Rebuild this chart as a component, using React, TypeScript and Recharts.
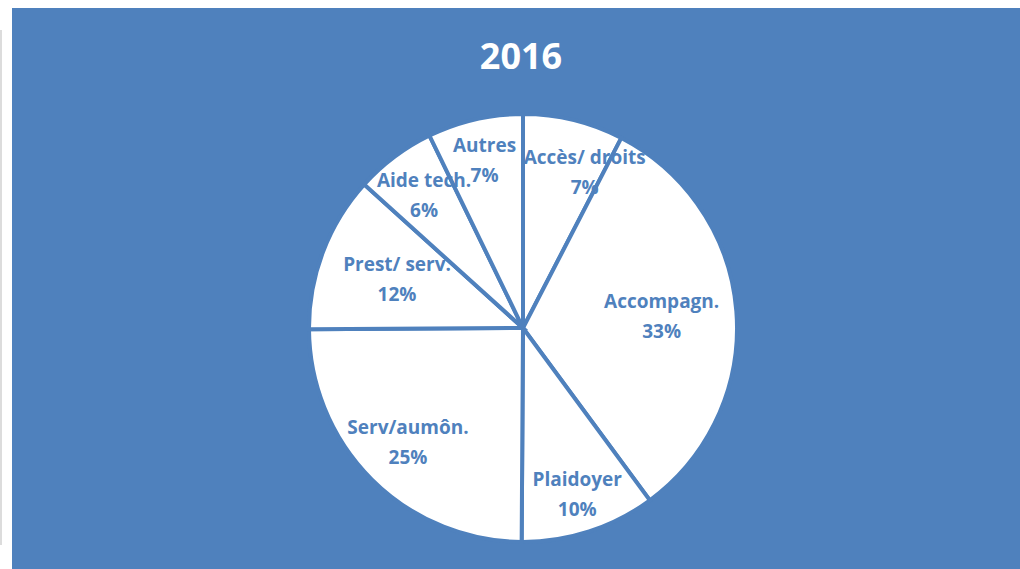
import React from "react";
import { PieChart, Pie, Cell } from "recharts";

const categories = ["Accès/ droits", "Accompagn.", "Plaidoyer", "Serv/aumôn.", "Prest/ serv.", "Aide tech.", "Autres"];
const values = [7.6, 32.3, 10.2, 24.8, 11.8, 6.1, 7.2];
const percentLabels = ["7%", "33%", "10%", "25%", "12%", "6%", "7%"];

const data = categories.map((name, i) => ({ name, value: values[i], pct: percentLabels[i] }));

// label layout tweaks (radius factor, angle offset in degrees)
const labelRadius = [0.78, 0.65, 0.82, 0.76, 0.63, 0.77, 0.8];
const labelAngleShift = [-8, 0, 0, 0, 0, 0, 0];

const BLUE = "#4F81BD";
const RAD = Math.PI / 180;
const FONT = "'Open Sans', Lato, sans-serif";

const renderLabel = (props: any) => {
  const { cx, cy, midAngle, outerRadius, index } = props;
  const a = (midAngle + labelAngleShift[index]) * RAD;
  const r = outerRadius * labelRadius[index];
  const x = cx + r * Math.cos(a);
  const y = cy - r * Math.sin(a);
  return (
    <text
      x={x}
      y={y}
      textAnchor="middle"
      fill={BLUE}
      fontFamily={FONT}
      fontWeight={700}
      fontSize={19}
    >
      <tspan x={x} dy={-9}>{data[index].name}</tspan>
      <tspan x={x} dy={30}>{data[index].pct}</tspan>
    </text>
  );
};

export default function App() {
  return (
    <div style={{ position: "absolute", left: 0, top: 0, width: 1020, height: 569, background: "#fff", overflow: "hidden" }}>
      <div style={{ position: "absolute", left: 0, top: 30, width: 2, height: 515, background: "#dcdcdc" }} />
      <div style={{ position: "absolute", left: 12, top: 8, width: 1008, height: 561, background: BLUE }} />
      <div style={{ position: "absolute", left: 0, top: 0 }}>
        <PieChart width={1020} height={569} margin={{ top: 0, right: 0, bottom: 0, left: 0 }}>
          <text
            x={521}
            y={69}
            textAnchor="middle"
            fill="#ffffff"
            fontFamily={FONT}
            fontWeight={700}
            fontSize={36}
          >
            2016
          </text>
          <Pie
            data={data}
            dataKey="value"
            nameKey="name"
            cx={523}
            cy={328}
            outerRadius={214}
            startAngle={90}
            endAngle={-270}
            stroke={BLUE}
            strokeWidth={4}
            label={renderLabel}
            labelLine={false}
            isAnimationActive={false}
          >
            {data.map((d, i) => (
              <Cell key={i} fill="#ffffff" stroke={BLUE} strokeWidth={4} />
            ))}
          </Pie>
        </PieChart>
      </div>
    </div>
  );
}
